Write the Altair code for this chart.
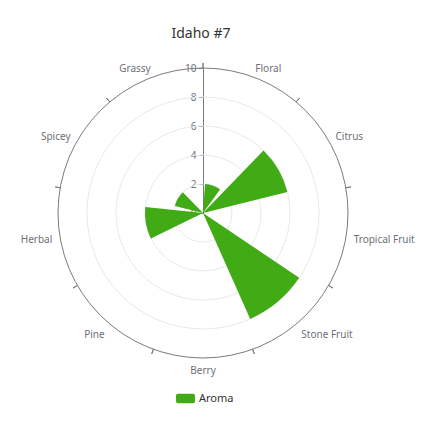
import math
import altair as alt
import pandas as pd

# ---- data ----
categories = ["Floral", "Citrus", "Tropical Fruit", "Stone Fruit", "Berry",
              "Pine", "Herbal", "Spicey", "Grassy"]
values = [2, 6, 0, 8, 0, 0, 4, 2, 0]
series_name = "Aroma"
radial_ticks = [0, 2, 4, 6, 8, 10]
grid_levels = [2, 4, 6, 8]
outer_level = [10]
title_text = "Idaho #7"

# label alignment groups (style)
label_groups = [
    (["Floral", "Citrus", "Tropical Fruit"], "left", "middle"),
    (["Stone Fruit"], "left", "top"),
    (["Berry"], "center", "top"),
    (["Pine"], "right", "top"),
    (["Herbal", "Spicey", "Grassy"], "right", "middle"),
]

# ---- style ----
FONT = "Noto Sans"
GREEN = "#41AB15"
AXIS_GREY = "#7A7A80"
LABEL_GREY = "#6E7079"
GRID_GREY = "#E8E8E8"
TAU = 2 * math.pi
R = 145
W = H = 2 * R
N = len(categories)

theta_scale = alt.Scale(domain=[0, N], range=[0, TAU])
r_scale = alt.Scale(type="linear", domain=[0, 10], range=[0, R], zero=True)

cat_df = pd.DataFrame({
    "category": categories,
    "value": values,
    "idx": list(range(N)),
    "series": [series_name] * N,
})

grid = alt.Chart(pd.DataFrame({"level": grid_levels})).mark_arc(
    theta=0, theta2=TAU, fill="transparent", stroke=GRID_GREY, strokeWidth=1
).encode(radius=alt.Radius("level:Q", stack=False, scale=r_scale))

outer = alt.Chart(pd.DataFrame({"level": outer_level})).mark_arc(
    theta=0, theta2=TAU, fill="transparent", stroke=AXIS_GREY, strokeWidth=1
).encode(radius=alt.Radius("level:Q", stack=False, scale=r_scale))

ticks = alt.Chart(cat_df).mark_arc(
    radius=R, radius2=R + 5, fill="transparent", stroke=AXIS_GREY, strokeWidth=1
).encode(
    theta=alt.Theta("idx:Q", stack=False, scale=theta_scale),
    theta2="idx:Q",
)

yaxis = alt.Chart(pd.DataFrame({"tick": radial_ticks})).mark_point(opacity=0).encode(
    y=alt.Y(
        "tick:Q",
        scale=alt.Scale(domain=[0, 10], range=[R, 0], nice=False, zero=True),
        axis=alt.Axis(
            values=radial_ticks, offset=-R, title=None, grid=False,
            tickSize=5, labelPadding=2, labelFontSize=10, labelFont=FONT,
            labelColor=LABEL_GREY, domainColor=AXIS_GREY, tickColor=AXIS_GREY,
            labelFlush=False,
        ),
    )
)

bars = alt.Chart(cat_df).transform_calculate(
    start="datum.idx + 0.1", end="datum.idx + 0.9"
).mark_arc().encode(
    theta=alt.Theta("start:Q", stack=False, scale=theta_scale),
    theta2="end:Q",
    radius=alt.Radius("value:Q", stack=False, scale=r_scale),
    color=alt.Color(
        "series:N",
        scale=alt.Scale(domain=[series_name], range=[GREEN]),
        legend=alt.Legend(
            title=None, orient="none", legendX=118, legendY=321,
            symbolType="M-0.8,-0.5H0.8A0.2,0.2 0 0 1 1,-0.3V0.3A0.2,0.2 0 0 1 0.8,0.5H-0.8A0.2,0.2 0 0 1 -1,0.3V-0.3A0.2,0.2 0 0 1 -0.8,-0.5Z",
            symbolSize=361, symbolStrokeWidth=0, labelFont=FONT,
            labelFontSize=11, labelColor="#333333", padding=0,
        ),
    ),
    tooltip=["category:N", "value:Q"],
)

labels = []
for cats, align, baseline in label_groups:
    labels.append(
        alt.Chart(cat_df).transform_filter(
            alt.FieldOneOfPredicate(field="category", oneOf=cats)
        ).transform_calculate(mid="datum.idx + 0.5").mark_text(
            radius=R + 8, align=align, baseline=baseline, font=FONT,
            fontSize=10, color=LABEL_GREY
        ).encode(
            theta=alt.Theta("mid:Q", stack=False, scale=theta_scale),
            text="category:N",
        )
    )

chart = alt.layer(grid, outer, ticks, yaxis, bars, *labels).properties(
    width=W, height=H,
    autosize="none",
    padding={"left": 50, "top": 60, "right": 74, "bottom": 56},
    title=alt.Title(
        title_text, fontSize=14, fontWeight="normal", color="#333333",
        font=FONT, anchor="middle", frame="group", offset=20, dx=-2,
    ),
).configure_view(stroke="transparent")

chart.save("out.html", embed_options={"renderer": "svg", "actions": False})
